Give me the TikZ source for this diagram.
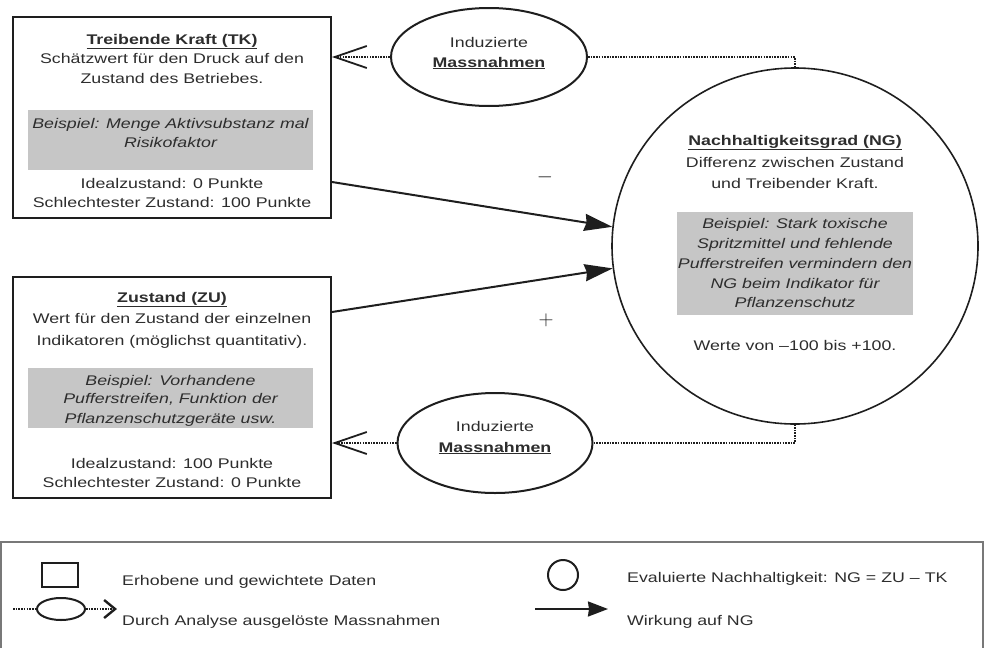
\documentclass[tikz,border=0pt]{standalone}
\usepackage{fontspec}
\setmainfont{Liberation Sans}[FakeStretch=1.27]
\usetikzlibrary{shapes.geometric,arrows.meta}
\definecolor{ink}{RGB}{30,30,30}
\definecolor{textc}{RGB}{45,45,45}
\definecolor{shade}{RGB}{198,198,198}
\definecolor{framec}{RGB}{120,120,120}
\begin{document}
\begin{tikzpicture}[x=1pt,y=-1pt,
  txt/.style={inner sep=0, anchor=base, text=textc, font=\fontsize{14}{20}\selectfont},
  ltxt/.style={txt, anchor=base west},
  databox/.style={draw=ink, line width=2pt, inner sep=0},
  shadebox/.style={fill=shade, draw=none, inner sep=0},
  massn/.style={ellipse, draw=ink, line width=2pt, inner sep=0},
  effect/.style={draw=ink, line width=2pt, -{Stealth[length=28pt,width=17pt,inset=2pt]}},
  induced/.style={draw=ink, line width=1.6pt, dash pattern=on 1.6pt off 1.1pt},
  barb/.style={induced, -{Straight Barb[length=32pt,width=22pt,line width=1.8pt]}},
  signtxt/.style={inner sep=0, text=ink, font=\fontsize{20}{20}\selectfont}
]
\useasboundingbox (0,0) rectangle (992,648);

% ---- Treibende Kraft box
\node[databox, minimum width=318pt, minimum height=201pt] (tk) at (172,117.5) {};
\node[shadebox, minimum width=285pt, minimum height=60pt] (tkg) at (170.5,140) {};
\node[txt] (tk1) at (172,44) {\underline{\textbf{Treibende Kraft (TK)}}};
\node[txt] (tk2) at (172,63) {Schätzwert für den Druck auf den};
\node[txt] (tk3) at (172,83) {Zustand des Betriebes.};
\node[txt] (tk4) at (170.5,128) {\itshape Beispiel: Menge Aktivsubstanz mal};
\node[txt] (tk5) at (170.5,147) {\itshape Risikofaktor};
\node[txt] (tk6) at (172,188) {Idealzustand: 0 Punkte};
\node[txt] (tk7) at (172,207) {Schlechtester Zustand: 100 Punkte};

% ---- Zustand box
\node[databox, minimum width=318pt, minimum height=221pt] (zu) at (172,387.5) {};
\node[shadebox, minimum width=285pt, minimum height=60pt] (zug) at (170.5,398) {};
\node[txt] (zu1) at (172,302) {\underline{\textbf{Zustand (ZU)}}};
\node[txt] (zu2) at (172,323) {Wert für den Zustand der einzelnen};
\node[txt] (zu3) at (172,345) {Indikatoren (möglichst quantitativ).};
\node[txt] (zu4) at (170.5,385) {\itshape Beispiel: Vorhandene};
\node[txt] (zu5) at (170.5,403) {\itshape Pufferstreifen, Funktion der};
\node[txt] (zu6) at (170.5,423) {\itshape Pflanzenschutzgeräte usw.};
\node[txt] (zu7) at (172,468) {Idealzustand: 100 Punkte};
\node[txt] (zu8) at (172,487) {Schlechtester Zustand: 0 Punkte};

% ---- Nachhaltigkeitsgrad circle
\node[ellipse, draw=ink, line width=1.6pt, inner sep=0, minimum width=366pt, minimum height=356pt] (ng) at (795,246) {};
\node[shadebox, minimum width=236pt, minimum height=103pt] (ngg) at (795,263.5) {};
\node[txt] (ng1) at (795,145) {\underline{\textbf{Nachhaltigkeitsgrad (NG)}}};
\node[txt] (ng2) at (795,167) {Differenz zwischen Zustand};
\node[txt] (ng3) at (795,188) {und Treibender Kraft.};
\node[txt] (ng4) at (795,228) {\itshape Beispiel: Stark toxische};
\node[txt] (ng5) at (795,248) {\itshape Spritzmittel und fehlende};
\node[txt] (ng6) at (795,268) {\itshape Pufferstreifen vermindern den};
\node[txt] (ng7) at (795,288) {\itshape NG beim Indikator für};
\node[txt] (ng8) at (795,307) {\itshape Pflanzenschutz};
\node[txt] (ng9) at (795,350) {Werte von –100 bis +100.};

% ---- Induzierte Massnahmen ellipses
\node[massn, minimum width=196pt, minimum height=98pt] (ue) at (489,57) {};
\node[txt] (ue1) at (489,47) {Induzierte};
\node[txt] (ue2) at (489,67) {\underline{\textbf{Massnahmen}}};
\node[massn, minimum width=195pt, minimum height=100pt] (le) at (495,443) {};
\node[txt] (le1) at (495,431) {Induzierte};
\node[txt] (le2) at (495,452) {\underline{\textbf{Massnahmen}}};

% ---- signs
\node[signtxt] (minus) at (545,177) {$-$};
\node[signtxt] (plus) at (546,320) {$+$};

% ---- connectors
\draw[effect] ([yshift=-64.5pt]tk.east) -- (ng.174);
\draw[effect] ([yshift=75.5pt]zu.east) -- (ng.187);
\draw[induced] (ue.east) -| (ng.north);
\draw[induced] (le.east) -| (ng.south);
\draw[barb] (ue.west) -- ([yshift=60.5pt]tk.east);
\draw[barb] (le.west) -- ([yshift=-55.5pt]zu.east);

% ---- legend
\draw[framec, line width=1.2pt] (1,648) -- (1,542) -- (983,542) -- (983,648);
\node[draw=ink, line width=2pt, inner sep=0, minimum width=36pt, minimum height=24pt] (lsq) at (60,575) {};
\node[ltxt] (lt1) at (122,585) {Erhobene und gewichtete Daten};
\coordinate (ld1) at (13,609);
\node[ellipse, draw=ink, line width=2pt, inner sep=0, minimum width=48pt, minimum height=22pt] (lel) at (61,609) {};
\coordinate (ld2) at (117,609);
\draw[induced] (ld1) -- (lel);
\draw[induced, -{Straight Barb[length=11pt,width=18pt,line width=2.4pt]}] (lel) -- (ld2);
\node[ltxt] (lt2) at (122,625) {Durch Analyse ausgelöste Massnahmen};
\node[circle, draw=ink, line width=2pt, inner sep=0, minimum size=30pt] (lci) at (563,575) {};
\node[ltxt] (lt3) at (627,582) {Evaluierte Nachhaltigkeit: NG = ZU – TK};
\coordinate (la1) at (535,609);
\coordinate (la2) at (608,609);
\draw[draw=ink, line width=2pt, -{Stealth[length=20pt,width=15pt,inset=1pt]}] (la1) -- (la2);
\node[ltxt] (lt4) at (627,625) {Wirkung auf NG};
\end{tikzpicture}
\end{document}
